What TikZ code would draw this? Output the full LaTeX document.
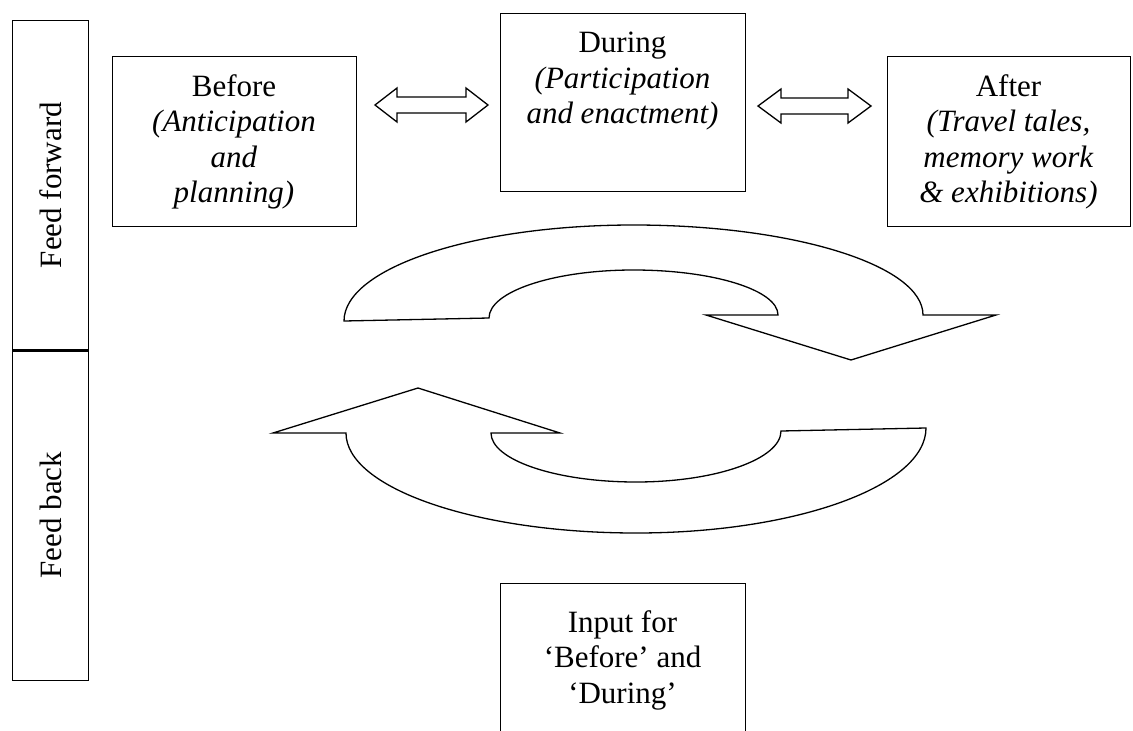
\documentclass[tikz,border=0pt]{standalone}
\usepackage{fontspec}
\setmainfont{Liberation Serif}
\begin{document}
\begin{tikzpicture}[x=1pt,y=-1pt,
  box/.style={draw, line width=1.3pt, inner sep=0pt, anchor=north west},
  txt/.style={align=center, inner sep=0pt, anchor=north, font=\fontsize{31}{35.6}\selectfont},
  side/.style={rotate=90, inner sep=0pt, font=\fontsize{31}{35.6}\selectfont},
  blockshape/.style={draw, line width=1.3pt, line join=miter}]
\useasboundingbox (0,0) rectangle (1133,731);
\clip (0,0) rectangle (1133,731);
% left bar
\node[box, minimum width=76pt, minimum height=329pt] (ffbar) at (12,20) {};
\node[box, minimum width=76pt, minimum height=331pt] (fbbar) at (12,349) {};
\draw[line width=3pt] (ffbar.south west) -- (ffbar.south east);
\node[side] (fftxt) at (ffbar.center) {Feed forward};
\node[side] (fbtxt) at (fbbar.center) {Feed back};
% boxes
\node[box, minimum width=244pt, minimum height=170pt] (before) at (112,56) {};
\node[box, minimum width=245pt, minimum height=178pt] (during) at (500,13) {};
\node[box, minimum width=243pt, minimum height=170pt] (after) at (887,56) {};
\node[box, minimum width=245pt, minimum height=200pt] (input) at (500,583) {};
\node[txt] (beforetxt) at (234,74) {Before\\\textit{(Anticipation}\\\textit{and}\\\textit{planning)}};
\node[txt] (duringtxt) at (622.5,32) {During\\\textit{(Participation}\\\textit{and enactment)}};
\node[txt] (aftertxt) at (1008.5,74) {After\\\textit{(Travel tales,}\\\textit{memory work}\\\textit{\& exhibitions)}};
\node[txt] (inputtxt) at (622.5,610) {Input for\\‘Before’ and\\‘During’};
% double block arrows
\draw[blockshape] (375,105) -- (397,88) -- (397,97) -- (466,97) -- (466,88) -- (488,105)
  -- (466,122) -- (466,113) -- (397,113) -- (397,122) -- cycle;
\draw[blockshape] (758,106) -- (781,89) -- (781,98) -- (848,98) -- (848,89) -- (871,106)
  -- (848,123) -- (848,114) -- (781,114) -- (781,123) -- cycle;
% upper curved arrow
\draw[blockshape] (344,321) .. controls (344,268) and (473.6,225) .. (633.5,225)
  .. controls (793.4,225) and (923,265.3) .. (923,315) -- (996,315) -- (851,360) -- (706,315)
  -- (778,315) .. controls (778,290.1) and (713.3,270) .. (633.5,270)
  .. controls (553.7,270) and (489,291.5) .. (489,318) -- cycle;
% lower curved arrow
\draw[blockshape] (273,433) -- (418,388) -- (560,433) -- (491,433)
  .. controls (491,460) and (556,482) .. (636,482)
  .. controls (716,482) and (781,459) .. (781,431) -- (926,428)
  .. controls (926,486) and (796,533) .. (636,533)
  .. controls (476,533) and (346,488) .. (346,433) -- cycle;
\end{tikzpicture}
\end{document}
